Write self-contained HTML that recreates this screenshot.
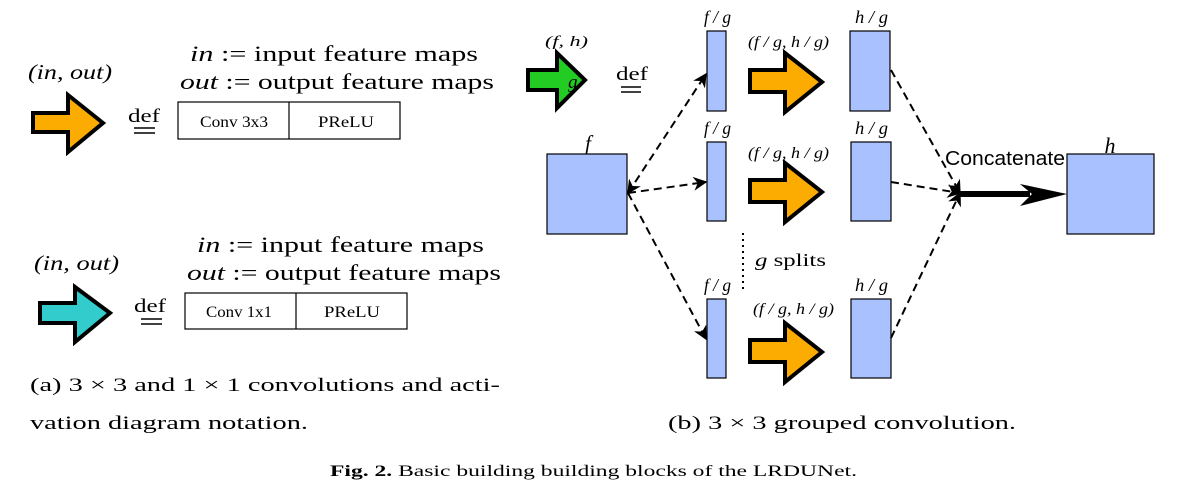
<!DOCTYPE html>
<html><head><meta charset="utf-8"><style>
html,body{margin:0;padding:0;background:#fff;}
svg{display:block;}
.s{font-family:"Liberation Serif",serif;}
</style></head><body>
<svg width="1187" height="498" viewBox="0 0 1187 498" xmlns="http://www.w3.org/2000/svg">
<defs>
<marker id="ah" viewBox="0 0 10 10" refX="9" refY="5" markerWidth="7" markerHeight="7" orient="auto-start-reverse"><path d="M0,0 L10,5 L0,10 L3,5 Z" fill="#000"/></marker>
</defs>
<g class="s" fill="#000">
<!-- left top -->
<text x="28" y="79" font-size="21" font-style="italic" textLength="84" lengthAdjust="spacingAndGlyphs">(in, out)</text>
<polygon points="33,113 68,113 68,95 103,123 68,152 68,132 33,132" fill="#fcac00" stroke="#000" stroke-width="4"/>
<text x="128" y="122" font-size="19" textLength="32" lengthAdjust="spacingAndGlyphs">def</text>
<line x1="134" y1="128" x2="155" y2="128" stroke="#000" stroke-width="1.5"/><line x1="134" y1="133" x2="155" y2="133" stroke="#000" stroke-width="1.5"/>
<text x="190" y="61" font-size="22" textLength="288" lengthAdjust="spacingAndGlyphs"><tspan font-style="italic">in</tspan> := input feature maps</text>
<text x="180" y="89" font-size="22" textLength="314" lengthAdjust="spacingAndGlyphs"><tspan font-style="italic">out</tspan> := output feature maps</text>
<rect x="178" y="102" width="222" height="37" fill="#fff" stroke="#000" stroke-width="1.2"/>
<line x1="289" y1="102" x2="289" y2="139" stroke="#000" stroke-width="1.2"/>
<text x="200" y="127" font-size="16" textLength="68" lengthAdjust="spacingAndGlyphs">Conv 3x3</text>
<text x="318" y="127" font-size="16" textLength="56" lengthAdjust="spacingAndGlyphs">PReLU</text>
<!-- left bottom -->
<text x="34" y="270" font-size="21" font-style="italic" textLength="85" lengthAdjust="spacingAndGlyphs">(in, out)</text>
<polygon points="40,303 75,303 75,287 110,313 75,342 75,323 40,323" fill="#33cccc" stroke="#000" stroke-width="4"/>
<text x="134" y="312" font-size="19" textLength="32" lengthAdjust="spacingAndGlyphs">def</text>
<line x1="141" y1="319" x2="162" y2="319" stroke="#000" stroke-width="1.5"/><line x1="141" y1="324" x2="162" y2="324" stroke="#000" stroke-width="1.5"/>
<text x="197" y="252" font-size="22" textLength="287" lengthAdjust="spacingAndGlyphs"><tspan font-style="italic">in</tspan> := input feature maps</text>
<text x="187" y="280" font-size="22" textLength="314" lengthAdjust="spacingAndGlyphs"><tspan font-style="italic">out</tspan> := output feature maps</text>
<rect x="185" y="293" width="222" height="36" fill="#fff" stroke="#000" stroke-width="1.2"/>
<line x1="296" y1="293" x2="296" y2="329" stroke="#000" stroke-width="1.2"/>
<text x="206" y="317" font-size="16" textLength="66" lengthAdjust="spacingAndGlyphs">Conv 1x1</text>
<text x="324" y="317" font-size="16" textLength="56" lengthAdjust="spacingAndGlyphs">PReLU</text>
<text x="30" y="391" font-size="19" textLength="470" lengthAdjust="spacingAndGlyphs">(a) 3 × 3 and 1 × 1 convolutions and acti-</text>
<text x="30" y="429" font-size="19" textLength="278" lengthAdjust="spacingAndGlyphs">vation diagram notation.</text>
<!-- right -->
<text x="545" y="46" font-size="15" font-style="italic" textLength="43" lengthAdjust="spacingAndGlyphs">(f, h)</text>
<polygon points="528,70 557,70 557,53 585,80 557,108 557,90 528,90" fill="#22cc22" stroke="#000" stroke-width="4"/>
<text x="568" y="88" font-size="19" font-style="italic">g</text>
<text x="616" y="80" font-size="19" textLength="32" lengthAdjust="spacingAndGlyphs">def</text>
<line x1="621" y1="87" x2="641" y2="87" stroke="#000" stroke-width="1.5"/><line x1="621" y1="92" x2="641" y2="92" stroke="#000" stroke-width="1.5"/>
<rect x="547" y="154" width="80" height="80" fill="#a9c1ff" stroke="#000" stroke-width="1.2"/>
<text x="588" y="150" font-size="21" font-style="italic" text-anchor="middle">f</text>
<g fill="#a9c1ff" stroke="#000" stroke-width="1.2">
<rect x="707" y="31" width="19" height="80"/><rect x="707" y="142" width="19" height="79"/><rect x="707" y="299" width="19" height="79"/>
<rect x="850" y="31" width="40" height="80"/><rect x="851" y="142" width="40" height="79"/><rect x="851" y="299" width="40" height="79"/>
<rect x="1067" y="154" width="87" height="80"/>
</g>
<g font-size="18" font-style="italic">
<text x="704" y="23" textLength="27" lengthAdjust="spacingAndGlyphs">f / g</text><text x="704" y="134" textLength="27" lengthAdjust="spacingAndGlyphs">f / g</text><text x="704" y="291" textLength="27" lengthAdjust="spacingAndGlyphs">f / g</text>
<text x="855" y="23" textLength="33" lengthAdjust="spacingAndGlyphs">h / g</text><text x="855" y="134" textLength="33" lengthAdjust="spacingAndGlyphs">h / g</text><text x="855" y="291" textLength="33" lengthAdjust="spacingAndGlyphs">h / g</text>
</g>
<g font-size="16" font-style="italic">
<text x="748" y="47" textLength="81" lengthAdjust="spacingAndGlyphs">(f / g, h / g)</text><text x="748" y="158" textLength="81" lengthAdjust="spacingAndGlyphs">(f / g, h / g)</text><text x="753" y="314" textLength="81" lengthAdjust="spacingAndGlyphs">(f / g, h / g)</text>
</g>
<g fill="#fcac00" stroke="#000" stroke-width="4">
<polygon points="750,70 785,70 785,53 822,82 785,112 785,92 750,92"/>
<polygon points="750,180 785,180 785,163 822,192 785,222 785,202 750,202"/>
<polygon points="750,340 785,340 785,323 822,352 785,382 785,362 750,362"/>
</g>
<line x1="743" y1="233" x2="743" y2="293" stroke="#000" stroke-width="2" stroke-dasharray="2,4"/>
<text x="755" y="266" font-size="18" textLength="71" lengthAdjust="spacingAndGlyphs"><tspan font-style="italic">g</tspan> splits</text>
<g stroke="#000" stroke-width="2" stroke-dasharray="8,5" fill="none">
<line x1="628" y1="193" x2="706" y2="74" marker-start="url(#ah)" marker-end="url(#ah)"/>
<line x1="628" y1="193" x2="706" y2="182" marker-end="url(#ah)"/>
<line x1="628" y1="193" x2="706" y2="339" marker-end="url(#ah)"/>
<line x1="891" y1="70" x2="960" y2="193" marker-end="url(#ah)"/>
<line x1="891" y1="182" x2="960" y2="193" marker-end="url(#ah)"/>
<line x1="891" y1="338" x2="960" y2="193" marker-end="url(#ah)"/>
</g>
<line x1="960" y1="194" x2="1030" y2="194" stroke="#000" stroke-width="6"/>
<polygon points="1020,184 1067,194 1020,206 1032,194" fill="#000"/>
<text x="945" y="165" font-family="Liberation Sans,sans-serif" font-size="20" textLength="120" lengthAdjust="spacingAndGlyphs">Concatenate</text>
<text x="1110" y="153" font-size="22" font-style="italic" text-anchor="middle">h</text>
<text x="668" y="429" font-size="19" textLength="348" lengthAdjust="spacingAndGlyphs">(b) 3 × 3 grouped convolution.</text>
<text x="330" y="476" font-size="16" textLength="527" lengthAdjust="spacingAndGlyphs"><tspan font-weight="bold">Fig. 2.</tspan>  Basic building building blocks of the LRDUNet.</text>
</g>
</svg>
</body></html>
